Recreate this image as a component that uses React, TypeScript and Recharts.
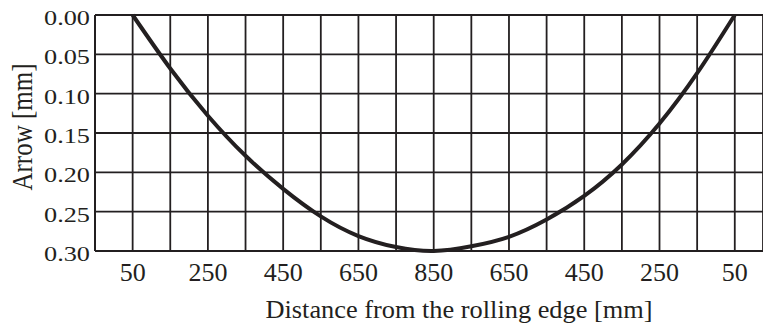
import React from 'react';
import { LineChart, Line, XAxis, YAxis, CartesianGrid } from 'recharts';

// distance along the strip, measured from the left rolling edge [mm]
const positions = [50, 150, 250, 350, 450, 550, 650, 750, 850, 950, 1050, 1150, 1250, 1350, 1450, 1550, 1650];
// arrow (deflection) at each grid line [mm]
const arrow = [0, 0.068, 0.128, 0.179, 0.221, 0.256, 0.281, 0.295, 0.3, 0.294, 0.282, 0.26, 0.23, 0.19, 0.138, 0.074, 0];

const xTicks = [-50, 50, 150, 250, 350, 450, 550, 650, 750, 850, 950, 1050, 1150, 1250, 1350, 1450, 1550, 1650];
const xLabelled = [50, 250, 450, 650, 850, 1050, 1250, 1450, 1650];
const yTicks = [0, 0.05, 0.1, 0.15, 0.2, 0.25, 0.3];

const STRIP_WIDTH = 1700;
const INK = '#231f20';
const FONT = 'Liberation Serif, Times New Roman, serif';

const data = positions.map((p, i) => ({ pos: p, arrow: arrow[i] }));

function XTick(props: any) {
  const { x, y, payload } = props;
  const v = payload.value;
  if (!xLabelled.includes(v)) return null;
  // distance is counted from whichever edge is nearer
  const label = v <= STRIP_WIDTH / 2 ? v : STRIP_WIDTH - v;
  return (
    <text x={x} y={y} dy={30} textAnchor="middle" fill={INK} fontFamily={FONT} fontSize={26}>
      {label}
    </text>
  );
}

function YTick(props: any) {
  const { x, y, payload } = props;
  return (
    <text
      x={x - 5}
      y={y}
      dy={10}
      textAnchor="end"
      fill={INK}
      fontFamily={FONT}
      fontSize={22}
      textLength={46}
      lengthAdjust="spacingAndGlyphs"
    >
      {payload.value.toFixed(2)}
    </text>
  );
}

function XTitle(props: any) {
  const { viewBox } = props;
  const cx = viewBox.x + viewBox.width / 2 + 30;
  return (
    <text
      x={cx}
      y={viewBox.y + 67}
      textAnchor="middle"
      fill={INK}
      fontFamily={FONT}
      fontSize={25}
      textLength={387}
      lengthAdjust="spacingAndGlyphs"
    >
      Distance from the rolling edge [mm]
    </text>
  );
}

function YTitle(props: any) {
  const { viewBox } = props;
  const cy = viewBox.y + viewBox.height / 2 - 6;
  return (
    <text
      transform={`translate(32, ${cy}) scale(1.2, 1) rotate(-90)`}
      textAnchor="middle"
      fill={INK}
      fontFamily={FONT}
      fontSize={25}
    >
      Arrow [mm]
    </text>
  );
}

export default function App() {
  return (
    <div style={{ position: 'fixed', left: 0, top: 0, background: '#fff' }}>
      <LineChart width={763} height={327} data={data} margin={{ top: 15, right: 0, bottom: 0, left: 0 }}>
        <CartesianGrid stroke={INK} strokeWidth={1.8} />
        <XAxis
          dataKey="pos"
          type="number"
          domain={[-50, 1725]}
          ticks={xTicks}
          interval={0}
          allowDataOverflow
          height={76}
          tickSize={0}
          tickMargin={0}
          tickLine={false}
          axisLine={{ stroke: INK, strokeWidth: 2 }}
          tick={<XTick />}
          label={<XTitle />}
        />
        <YAxis
          type="number"
          domain={[0, 0.3]}
          ticks={yTicks}
          reversed
          interval={0}
          width={95}
          tickSize={0}
          tickMargin={0}
          tickLine={false}
          axisLine={{ stroke: INK, strokeWidth: 2 }}
          tick={<YTick />}
          label={<YTitle />}
        />
        <Line
          type="natural"
          dataKey="arrow"
          stroke={INK}
          strokeWidth={4}
          dot={false}
          isAnimationActive={false}
        />
      </LineChart>
    </div>
  );
}
